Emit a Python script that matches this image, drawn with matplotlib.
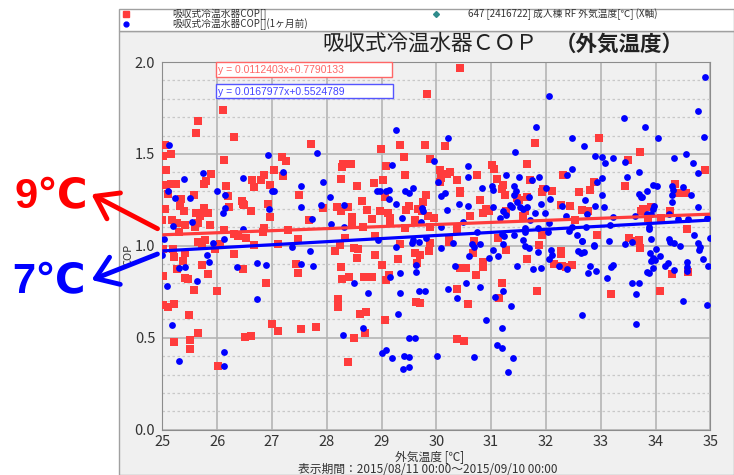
import numpy as np
import matplotlib
matplotlib.use('Agg')
import matplotlib.pyplot as plt
from matplotlib.patches import Rectangle, FancyArrowPatch
from matplotlib.lines import Line2D

plt.rcParams['font.family'] = ['Noto Sans CJK JP', 'DejaVu Sans']

## COP vs outdoor temperature (this month)
red_x = [26.10, 25.65, 25.61, 26.30, 27.71, 25.05, 25.15, 25.02, 26.12, 27.18, 27.26, 28.29, 27.03, 25.06,
         25.89, 26.85, 27.21, 26.63, 25.79, 25.76, 26.80, 28.27, 25.06, 25.16, 25.25, 26.67, 26.17, 26.97,
         25.11, 25.58, 25.34, 27.49, 26.20, 26.46, 26.47, 26.92, 25.33, 25.05, 25.39, 25.76, 26.22, 26.49,
         27.94, 28.18, 28.26, 25.62, 25.69, 25.83, 26.62, 26.97, 27.67, 25.00, 25.17, 25.26, 25.42, 25.60,
         25.66, 25.87, 26.12, 26.86, 26.83, 27.30, 26.39, 26.30, 27.48, 25.30, 25.78, 26.53,
         30.44, 29.83, 28.99, 29.33, 29.79, 30.16, 29.41, 29.88, 28.44, 28.28, 29.09, 30.07, 30.25, 30.20,
         29.43, 31.02, 31.06, 31.66, 29.02, 28.86, 30.09, 30.07, 30.37, 30.75, 31.10, 31.22, 31.20, 31.71,
         28.55, 30.43, 30.44, 29.81, 31.26, 28.64, 29.07, 29.75, 30.80, 31.47, 31.51, 31.65, 28.39, 28.73,
         29.51, 29.45, 29.66, 29.73, 28.98, 29.12, 30.91, 30.86, 30.96, 31.28, 31.61, 31.59, 28.47, 28.46,
         28.82, 29.16, 29.16, 29.85, 29.96, 29.61, 30.61, 29.43, 29.88, 30.37, 28.66, 28.88, 28.33, 31.12,
         30.69, 30.23,
         31.81, 32.96, 33.72, 33.50, 34.91, 32.32, 32.88, 34.36, 31.94, 31.93, 32.12, 32.61, 32.80, 33.45,
         34.43, 34.55, 32.28, 32.44, 32.65, 32.77, 33.73, 33.78, 33.92, 34.27, 32.54, 33.87, 34.10, 34.58,
         31.93, 32.93, 33.51, 33.70, 33.67,
         25.02, 25.20, 25.22, 25.41, 25.65, 25.72, 25.96, 26.06, 26.30, 26.68, 27.12, 28.24, 28.15, 25.37,
         25.27, 25.73, 25.83, 25.02, 25.41, 25.47, 26.47, 26.89, 27.44, 27.48, 28.26, 28.28, 25.58, 25.99,
         25.02, 25.11, 25.21, 28.21, 28.20, 25.49, 25.65, 27.01, 27.11, 27.53, 27.81, 26.51, 26.62, 25.22,
         25.51, 25.51, 26.01,
         28.49, 28.58, 28.55, 28.88, 29.34, 29.31, 29.00, 29.61, 29.70, 29.87, 29.88, 29.65, 29.13, 29.08,
         28.68, 28.82, 28.41, 29.63, 29.70, 28.72, 28.61, 28.70, 29.06, 28.50, 28.38, 30.24, 30.67, 30.44,
         30.55, 30.86, 30.85, 30.72, 31.28, 31.19, 30.38, 30.58, 31.14, 30.38, 30.50, 31.65,
         31.87, 32.27, 32.27, 32.15, 32.29, 32.37, 32.47, 31.84, 33.19, 33.72, 34.08, 34.30, 34.60]
red_y = [1.740, 1.680, 1.615, 1.590, 1.555, 1.546, 1.499, 1.486, 1.468, 1.481, 1.460, 1.446, 1.410, 1.410,
         1.390, 1.383, 1.379, 1.359, 1.352, 1.336, 1.357, 1.365, 1.330, 1.334, 1.336, 1.320, 1.323, 1.332,
         1.280, 1.278, 1.256, 1.278, 1.270, 1.245, 1.230, 1.227, 1.218, 1.200, 1.192, 1.205, 1.209, 1.220,
         1.205, 1.209, 1.187, 1.180, 1.160, 1.180, 1.189, 1.158, 1.140, 1.143, 1.143, 1.124, 1.114, 1.105,
         1.123, 1.114, 1.087, 1.096, 1.078, 1.087, 1.051, 1.063, 1.036, 1.078, 1.033, 1.042,
         1.966, 1.825, 1.528, 1.546, 1.550, 1.542, 1.482, 1.472, 1.446, 1.428, 1.437, 1.410, 1.401, 1.392,
         1.386, 1.441, 1.419, 1.446, 1.359, 1.341, 1.368, 1.345, 1.357, 1.383, 1.365, 1.332, 1.310, 1.357,
         1.323, 1.296, 1.289, 1.278, 1.278, 1.245, 1.268, 1.239, 1.247, 1.259, 1.247, 1.268, 1.209, 1.196,
         1.219, 1.194, 1.203, 1.187, 1.190, 1.176, 1.201, 1.178, 1.190, 1.187, 1.187, 1.162, 1.156, 1.124,
         1.147, 1.151, 1.132, 1.165, 1.151, 1.143, 1.162, 1.096, 1.103, 1.089, 1.100, 1.056, 1.045, 1.045,
         1.024, 1.031,
         1.562, 1.586, 1.513, 1.466, 1.412, 1.383, 1.348, 1.336, 1.310, 1.292, 1.296, 1.294, 1.303, 1.326,
         1.285, 1.288, 1.221, 1.218, 1.196, 1.187, 1.192, 1.201, 1.209, 1.190, 1.143, 1.151, 1.151, 1.091,
         1.060, 1.060, 1.045, 1.031, 1.026,
         0.981, 0.983, 0.938, 0.960, 1.023, 1.010, 0.981, 1.010, 0.956, 1.005, 1.010, 1.005, 0.974, 0.920,
         0.876, 0.898, 0.847, 0.836, 0.825, 0.820, 0.872, 0.800, 0.901, 0.854, 0.887, 0.818, 0.758, 0.755,
         0.678, 0.666, 0.682, 0.711, 0.666, 0.624, 0.528, 0.573, 0.539, 0.548, 0.561, 0.504, 0.510, 0.475,
         0.488, 0.439, 0.347,
         0.987, 0.981, 0.936, 0.950, 1.010, 0.930, 0.896, 0.960, 0.950, 0.974, 1.014, 0.905, 0.842, 0.814,
         0.829, 0.833, 0.829, 0.697, 0.688, 0.642, 0.630, 0.528, 0.597, 0.497, 0.367, 1.023, 0.963, 0.878,
         0.881, 0.914, 0.883, 0.840, 0.978, 0.800, 0.764, 0.684, 0.716, 0.494, 0.481, 0.930,
         1.003, 0.974, 0.956, 0.901, 0.891, 0.887, 0.896, 0.755, 0.738, 0.987, 0.755, 0.847, 0.860]

## COP vs outdoor temperature (previous month)
blue_x = [25.13, 27.83, 26.93, 25.75, 26.47, 27.20, 25.39, 27.93, 25.11, 25.99, 26.15, 27.01, 27.04, 27.53,
          25.23, 25.51, 28.06, 26.15, 26.10, 26.95, 27.53, 27.89, 28.31, 25.54, 27.74, 25.20, 28.08, 26.47,
          28.31, 25.03, 26.12, 25.92,
          29.26, 30.22, 31.43, 29.96, 29.19, 30.57, 30.58, 31.27, 31.50, 30.03, 29.58, 29.51, 29.42, 28.91,
          28.97, 29.13, 29.09, 30.15, 30.09, 30.84, 31.02, 31.03, 31.42, 31.45, 31.41, 31.47, 29.13, 29.26,
          30.41, 30.57, 31.03, 29.73, 29.75, 30.20, 31.34, 31.39, 31.53, 31.58, 31.65, 31.22, 31.28, 31.16,
          29.37, 29.72, 30.09, 30.49, 30.75, 31.62, 31.62, 31.41, 31.19, 31.23, 29.58, 29.81, 28.93, 30.31,
          31.59,
          34.90, 32.06, 34.78, 33.43, 31.82, 33.81, 32.48, 34.88, 34.04, 32.70, 32.90, 33.02, 33.08, 33.23,
          33.45, 34.34, 34.55, 34.68, 34.78, 32.48, 32.38, 33.69, 33.48, 31.75, 31.87, 33.02, 32.94, 32.00,
          33.95, 34.03, 33.84, 33.70, 33.73, 33.76, 34.30, 34.32, 34.31, 34.31, 34.50, 34.64, 31.70, 32.08,
          31.91, 32.72, 33.02, 32.30, 32.90, 33.06, 33.97, 33.96, 34.77, 31.81, 31.99, 32.75, 32.36, 33.22,
          33.85, 33.92, 33.62, 34.25, 34.41, 34.60, 34.94, 31.71, 32.06, 31.85, 32.47, 32.74, 32.43, 33.89,
          33.88, 33.17, 32.03, 32.56, 33.91, 34.71, 32.66, 33.16, 34.25, 34.99, 32.88, 33.44, 33.58, 34.78,
          25.00, 25.81, 25.85, 25.31, 25.42, 25.63, 25.09, 26.37, 26.73, 26.90, 26.73, 27.36, 27.69, 27.53,
          27.75, 25.17, 25.31, 26.12, 26.12, 28.29,
          29.55, 29.68, 29.26, 30.09, 30.66, 30.69, 30.80, 30.59, 30.97, 31.03, 31.13, 31.21, 31.48, 31.62,
          29.63, 29.63, 29.33, 29.16, 30.34, 28.50, 28.75, 29.34, 29.69, 29.79, 30.22, 30.54, 30.80, 30.37,
          31.08, 31.22, 31.36, 29.31, 30.90, 31.20, 28.66, 29.51, 29.61, 29.00, 29.09, 29.20, 29.41, 29.51,
          29.40, 29.51, 30.01, 30.69, 31.10, 31.20, 31.40, 31.30,
          31.70, 31.86, 32.10, 32.12, 32.06, 32.23, 31.77, 31.91, 32.38, 32.66, 32.88, 32.58, 32.64, 32.69,
          32.80, 32.77, 32.91, 33.18, 33.22, 33.11, 32.65, 33.58, 33.70, 33.65, 33.65, 33.90, 33.91, 34.00,
          33.96, 33.99, 34.08, 33.84, 33.89, 33.95, 34.17, 34.22, 34.34, 34.26, 34.34, 34.44, 34.57, 34.57,
          34.57, 34.82, 34.80, 34.87, 34.95, 34.51, 34.94]
blue_y = [1.550, 1.504, 1.495, 1.394, 1.368, 1.401, 1.365, 1.348, 1.297, 1.297, 1.276, 1.301, 1.297, 1.328,
          1.259, 1.259, 1.263, 1.205, 1.180, 1.201, 1.212, 1.223, 1.223, 1.132, 1.147, 1.110, 1.120, 1.093,
          1.102, 1.038, 1.038, 1.015,
          1.631, 1.589, 1.511, 1.459, 1.441, 1.437, 1.377, 1.386, 1.377, 1.348, 1.314, 1.290, 1.298, 1.301,
          1.296, 1.305, 1.296, 1.290, 1.272, 1.314, 1.323, 1.305, 1.323, 1.296, 1.278, 1.241, 1.256, 1.230,
          1.230, 1.219, 1.214, 1.205, 1.187, 1.196, 1.223, 1.209, 1.209, 1.201, 1.214, 1.187, 1.169, 1.154,
          1.151, 1.132, 1.105, 1.132, 1.078, 1.096, 1.078, 1.060, 1.064, 1.051, 1.033, 1.045, 1.033, 1.015,
          1.033,
          1.921, 1.816, 1.736, 1.698, 1.647, 1.644, 1.584, 1.593, 1.589, 1.544, 1.488, 1.484, 1.453, 1.479,
          1.457, 1.479, 1.497, 1.453, 1.395, 1.419, 1.388, 1.403, 1.374, 1.359, 1.374, 1.368, 1.348, 1.317,
          1.332, 1.323, 1.301, 1.281, 1.267, 1.263, 1.326, 1.305, 1.278, 1.236, 1.321, 1.274, 1.263, 1.256,
          1.230, 1.247, 1.274, 1.218, 1.216, 1.209, 1.219, 1.201, 1.209, 1.176, 1.176, 1.172, 1.165, 1.158,
          1.172, 1.172, 1.160, 1.172, 1.147, 1.147, 1.151, 1.142, 1.122, 1.096, 1.103, 1.100, 1.083, 1.103,
          1.091, 1.111, 1.073, 1.060, 1.038, 1.058, 1.029, 1.024, 1.038, 1.045, 1.006, 1.009, 1.020, 1.015,
          0.950, 0.950, 0.912, 0.880, 0.883, 0.811, 0.784, 0.887, 0.905, 0.896, 0.711, 0.996, 0.972, 0.900,
          0.892, 0.572, 0.376, 0.421, 0.348, 0.517,
          1.017, 1.021, 0.992, 0.987, 1.010, 0.992, 1.010, 0.947, 0.934, 0.978, 0.947, 1.010, 0.889, 1.000,
          0.894, 0.858, 0.851, 0.829, 0.892, 0.800, 0.746, 0.742, 0.753, 0.756, 0.765, 0.800, 0.775, 0.716,
          0.720, 0.756, 0.673, 0.631, 0.597, 0.552, 0.555, 0.501, 0.501, 0.416, 0.434, 0.388, 0.403, 0.397,
          0.332, 0.341, 0.403, 0.396, 0.463, 0.443, 0.392, 0.316,
          0.987, 0.969, 0.978, 0.950, 0.927, 0.892, 0.876, 0.880, 0.872, 1.027, 0.999, 0.974, 0.960, 0.965,
          0.892, 0.854, 0.863, 0.883, 0.896, 0.825, 0.622, 0.796, 0.796, 0.738, 0.577, 0.960, 0.920, 0.981,
          0.932, 0.923, 0.945, 0.860, 0.851, 0.880, 0.892, 0.909, 0.869, 1.023, 1.014, 1.001, 0.914, 0.887,
          0.865, 0.996, 0.978, 0.930, 0.891, 0.698, 0.677]

## Linear fits
red_fit = (0.0112403, 0.7790133)
blue_fit = (0.0167977, 0.5524789)

x_ticks = list(range(25, 36))
y_ticks = [0.0, 0.5, 1.0, 1.5, 2.0]

RED = '#FF3C3C'
BLUE = '#0000FF'
W, H = 734, 475
NARROW = ['Liberation Sans Narrow', 'Noto Sans CJK JP']

fig = plt.figure(figsize=(W/100, H/100), dpi=100)
fig.patch.set_facecolor('white')

def fx(px):
    return px / W

def fy(py):
    return 1 - py / H

# grey panel and legend strip
fig.patches.append(Rectangle((fx(119), 0), 1 - fx(119), fy(31), transform=fig.transFigure,
                             facecolor='#F0F0F0', edgecolor='#A0A0A0', lw=1, zorder=-10))
fig.patches.append(Rectangle((fx(119), fy(31)), 1 - fx(119), fy(9) - fy(31), transform=fig.transFigure,
                             facecolor='white', edgecolor='#A0A0A0', lw=1, zorder=-10))

# legend rows
fig.add_artist(Line2D([fx(126)], [fy(14)], marker='s', ms=4, color=RED, transform=fig.transFigure))
fig.add_artist(Line2D([fx(126)], [fy(24)], marker='o', ms=3.5, color=BLUE, transform=fig.transFigure))
fig.add_artist(Line2D([fx(436)], [fy(14)], marker='D', ms=3, color='#2E8B8B', transform=fig.transFigure))
fig.text(fx(172), fy(14), '吸収式冷温水器COP[]', fontsize=7, va='center', color='#333333')
fig.text(fx(172), fy(24), '吸収式冷温水器COP[](1ヶ月前)', fontsize=7, va='center', color='#333333')
fig.text(fx(468), fy(14), '647 [2416722] 成人棟 RF 外気温度[℃] (X軸)', fontsize=7, va='center',
         color='#333333')

# title
fig.text(fx(322), fy(44), '吸収式冷温水器ＣＯＰ', fontsize=15.5, va='center', color='#222222')
fig.text(fx(555), fy(44), '（外気温度）', fontsize=15.5, va='center', color='#222222', fontweight='bold')

ax = fig.add_axes([fx(162.3), fy(429.7), fx(710.3) - fx(162.3), fy(62) - fy(429.7)])
ax.set_facecolor('#F0F0F0')

ax.scatter(red_x, red_y, marker='s', s=30, color=RED, linewidths=0, zorder=3)
ax.scatter(blue_x, blue_y, marker='o', s=24, color=BLUE, linewidths=0, zorder=4)

xl = np.array([25, 35])
ax.plot(xl, red_fit[0] * xl + red_fit[1], color=RED, lw=2.3, zorder=5, solid_capstyle='butt')
ax.plot(xl, blue_fit[0] * xl + blue_fit[1], color=BLUE, lw=2.3, zorder=6, solid_capstyle='butt')

ax.set_xlim(25, 35)
ax.set_ylim(0, 2.0)
ax.set_xticks(x_ticks)
ax.set_yticks(y_ticks)
ax.set_yticks(np.arange(0.1, 2.0, 0.1), minor=True)
ax.set_xticklabels([str(v) for v in x_ticks], family=NARROW, fontsize=10.5, color='#333333')
ax.set_yticklabels(['%.1f' % v for v in y_ticks], family=NARROW, fontsize=10.5, color='#333333')
ax.tick_params(which='both', length=0)
ax.tick_params(axis='x', pad=4)
ax.tick_params(axis='y', pad=5)
ax.grid(which='major', color='#B4B4B4', lw=1.2, zorder=1)
ax.grid(which='minor', axis='y', color='#C8C8C8', lw=0.9, ls=(0, (2, 2)), zorder=1)
ax.set_axisbelow(True)
for s in ax.spines.values():
    s.set_color('#8C8C8C')

# equation boxes
fig.patches.append(Rectangle((fx(216), fy(77)), fx(392) - fx(216), fy(62) - fy(77), transform=fig.transFigure,
                             facecolor='white', edgecolor='#FF6666', lw=1, zorder=7))
fig.patches.append(Rectangle((fx(216), fy(98)), fx(393) - fx(216), fy(84) - fy(98), transform=fig.transFigure,
                             facecolor='white', edgecolor='#5555FF', lw=1, zorder=7))
fig.text(fx(218), fy(70), 'y = %.7fx+%.7f' % red_fit, family='Liberation Sans', fontsize=7.5,
         color='#FF6666', va='center', zorder=8)
fig.text(fx(218), fy(91.5), 'y = %.7fx+%.7f' % blue_fit, family='Liberation Sans', fontsize=7.5,
         color='#4444FF', va='center', zorder=8)

fig.text(fx(128), fy(255), 'COP', rotation=90, fontsize=8, family=NARROW, va='center', ha='center',
         color='#333333')
fig.text(fx(430), fy(457.5), '外気温度 [℃]', fontsize=8.5, family=NARROW, va='center', ha='center',
         color='#333333')
fig.text(fx(428), fy(469.5), '表示期間：2015/08/11 00:00～2015/09/10 00:00', fontsize=8.5, family=NARROW,
         va='center', ha='center', color='#333333')

# temperature callouts
BIG = ['Liberation Sans', 'DejaVu Sans']
fig.text(fx(51), fy(197), '9℃', fontsize=30, family=BIG, fontweight='bold', color='#FF0000',
         ha='center', va='center')
fig.text(fx(49), fy(282), '7℃', fontsize=30, family=BIG, fontweight='bold', color='#0000FF',
         ha='center', va='center')
arrow = '->,head_length=0.5,head_width=0.35'
fig.add_artist(FancyArrowPatch((fx(160), fy(230)), (fx(89), fy(193)),
               transform=fig.transFigure, arrowstyle=arrow, mutation_scale=30, lw=3.5, color='#FF0000',
               zorder=9))
fig.add_artist(FancyArrowPatch((fx(160), fy(253)), (fx(89), fy(281)),
               transform=fig.transFigure, arrowstyle=arrow, mutation_scale=30, lw=3.5, color='#0000FF',
               zorder=9))

fig.savefig('out.png', dpi=100)
